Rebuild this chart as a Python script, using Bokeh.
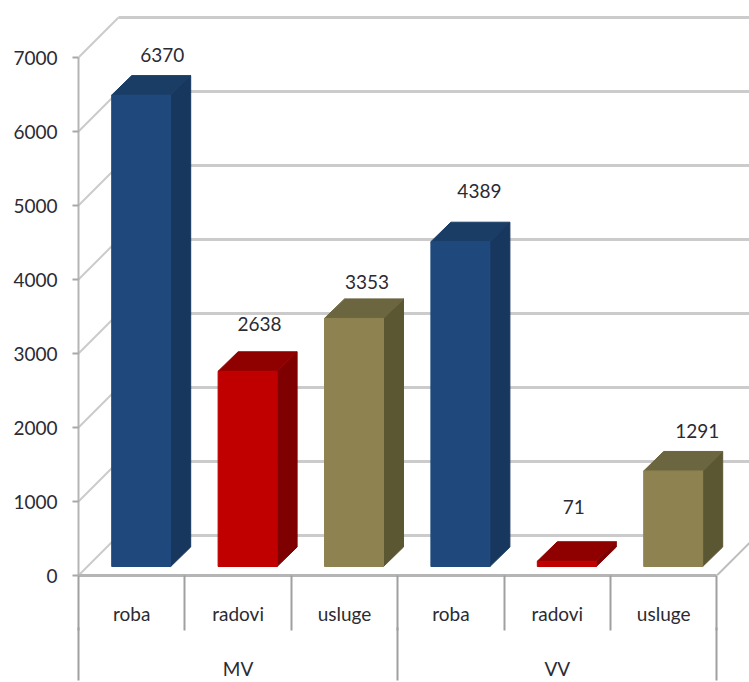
from bokeh.plotting import figure
from bokeh.models import Range1d, LinearAxis, FixedTicker, ColumnDataSource
from bokeh.core.properties import value
from bokeh.embed import file_html
from bokeh.resources import INLINE

# ---- data ----
groups = ["MV", "VV"]
categories = ["roba", "radovi", "usluge", "roba", "radovi", "usluge"]
values = [6370, 2638, 3353, 4389, 71, 1291]
y_ticks = [0, 1000, 2000, 3000, 4000, 5000, 6000, 7000]

# ---- styles ----
front = {"roba": "#1f497d", "radovi": "#c00000", "usluge": "#8e8350"}
side = {"roba": "#17375e", "radovi": "#7f0000", "usluge": "#5c5733"}
top = {"roba": "#1a3d66", "radovi": "#8f0000", "usluge": "#6b6540"}
FONT = "Lato"
TXT = "#2b2b33"
FS = "19px"

# ---- layout (pixel scales of the reference) ----
W, H = 749, 682
LEFT, BOTTOM = 78, 107
PX_X = 106.4      # pixels per category
PX_Y = 0.074      # pixels per value unit
wall_dx, wall_dy = 40 / PX_X, 40 / PX_Y
bar_dx, bar_dy = 20 / PX_X, 19.5 / PX_Y
bar_w = 59 / PX_X
bar_shift = 9.5 / PX_X
bar_base = 9 / PX_Y
label_dx = [21, 12, 13, 19, 7, 24]
label_dy = [21, 28, 17, 31, 35, 20]

x_end = (W - LEFT) / PX_X
y_end = (H - BOTTOM) / PX_Y

p = figure(width=W, height=H, output_backend="svg", toolbar_location=None,
           x_range=Range1d(0, x_end), y_range=Range1d(0, y_end),
           x_axis_location=None, y_axis_location=None,
           min_border_left=LEFT, min_border_right=0, min_border_top=0,
           min_border_bottom=BOTTOM, outline_line_color=None)
p.grid.visible = False

# ---- walls ----
GRID = "#cbcbcb"
for v in y_ticks:
    x_stop = x_end if v > 0 else len(values) - 0.5
    p.line([wall_dx, x_stop], [v + wall_dy, v + wall_dy], line_color=GRID, line_width=3)
    p.line([0, wall_dx], [v, v + wall_dy], line_color=GRID, line_width=2)
p.line([len(values), len(values) + wall_dx], [0, wall_dy], line_color="#bdbdbd", line_width=2)

# ---- bars ----
for i, (cat, v) in enumerate(zip(categories, values)):
    x0 = i + 0.5 + bar_shift - bar_w / 2
    x1 = x0 + bar_w
    y0 = bar_base
    y1 = bar_base + v
    p.patch([x1, x1 + bar_dx, x1 + bar_dx, x1], [y0, y0 + bar_dy, y1 + bar_dy, y1],
            fill_color=side[cat], line_color=side[cat])
    p.patch([x0, x0 + bar_dx, x1 + bar_dx, x1], [y1, y1 + bar_dy, y1 + bar_dy, y1],
            fill_color=top[cat], line_color=top[cat])
    p.quad(left=x0, right=x1, bottom=y0, top=y1, fill_color=front[cat], line_color=front[cat])

# ---- value labels ----
src = ColumnDataSource(dict(
    x=[i + 0.5 + bar_shift for i in range(len(values))],
    y=[bar_base + v + bar_dy for v in values],
    t=[str(v) for v in values],
    xo=label_dx,
    yo=[-d for d in label_dy],
))
p.text(x="x", y="y", text="t", x_offset="xo", y_offset="yo", source=src,
       text_align="center", text_baseline="middle", text_color=TXT,
       text_font=value(FONT), text_font_size=FS)

# ---- y axis ----
ya = LinearAxis(ticker=FixedTicker(ticks=y_ticks), bounds=(y_ticks[0], y_ticks[-1]),
                major_tick_in=0, major_tick_out=6,
                minor_tick_out=0, minor_tick_in=0,
                axis_line_color="#b5b5b5", axis_line_width=2,
                major_tick_line_color="#a8a8a8", major_tick_line_width=2,
                major_label_standoff=15, major_label_text_font=FONT,
                major_label_text_font_size=FS, major_label_text_color=TXT)
p.add_layout(ya, "left")

# ---- x axes: categories, then groups ----
n = len(categories)
xa = LinearAxis(
    ticker=FixedTicker(ticks=[i + 0.5 for i in range(n)], minor_ticks=list(range(n + 1))),
    major_label_overrides={i + 0.5: c for i, c in enumerate(categories)},
    bounds=(0, n),
    major_tick_in=0, major_tick_out=0, major_tick_line_color=None,
    minor_tick_in=0, minor_tick_out=55, minor_tick_line_color="#a0a0a0", minor_tick_line_width=2,
    axis_line_color="#b5b5b5", axis_line_width=3,
    major_label_standoff=-29, major_label_text_font=FONT,
    major_label_text_font_size=FS, major_label_text_color=TXT)
p.add_layout(xa, "below")

per = n // len(groups)
ga = LinearAxis(
    ticker=FixedTicker(ticks=[per * (i + 0.5) for i in range(len(groups))],
                       minor_ticks=[per * i for i in range(len(groups) + 1)]),
    major_label_overrides={per * (i + 0.5): g for i, g in enumerate(groups)},
    major_tick_in=0, major_tick_out=0, major_tick_line_color=None,
    minor_tick_in=0, minor_tick_out=53, minor_tick_line_color="#a0a0a0", minor_tick_line_width=2,
    axis_line_color=None,
    major_label_standoff=-24, major_label_text_font=FONT,
    major_label_text_line_height=0.6,
    major_label_text_font_size=FS, major_label_text_color=TXT)
p.add_layout(ga, "below")

open("out.html", "w").write(file_html(p, INLINE))
